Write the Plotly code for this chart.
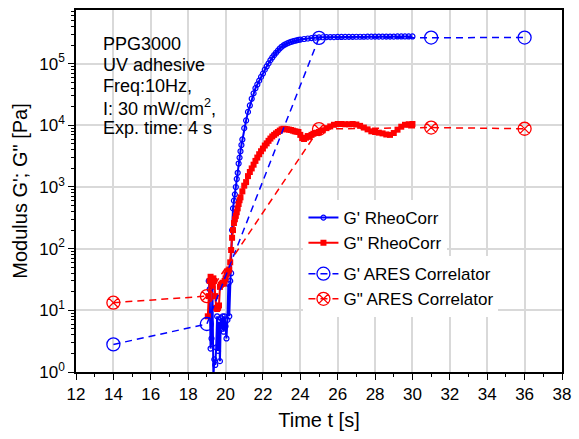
import plotly.graph_objects as go

# ---------------- data ----------------
t_gp = [19.10, 19.15, 19.20, 19.25, 19.30, 19.35, 19.40, 19.45, 19.50, 19.55,
        19.60, 19.65, 19.70, 19.75, 19.80, 19.85, 19.90, 19.95, 20.00, 20.05,
        20.10, 20.15, 20.20, 20.25, 20.30, 20.35, 20.40, 20.45, 20.50, 20.55,
        20.60, 20.65, 20.70, 20.75, 20.80, 20.85, 20.90, 21.00, 21.10, 21.20,
        21.30, 21.40, 21.50, 21.60, 21.70, 21.80, 21.90, 22.00, 22.10, 22.20,
        22.30, 22.40, 22.50, 22.60, 22.70, 22.80, 22.90, 23.00, 23.10, 23.20,
        23.30, 23.40, 23.50, 23.60, 23.70, 23.80, 23.90, 24.00, 24.20, 24.40,
        24.60, 24.80, 25.00, 25.20, 25.40, 25.60, 25.80, 26.00, 26.20, 26.40,
        26.60, 26.80, 27.00, 27.20, 27.40, 27.60, 27.80, 28.00, 28.20, 28.40,
        28.60, 28.80, 29.00, 29.20, 29.40, 29.60, 29.80, 30.00]
g_p = [30, 22, 2.4, 3.5, 24, 0.8, 1.6, 1.3, 2.5, 8,
       2.2, 6.5, 1.5, 7.5, 5, 8, 4.5, 8, 5.5, 3.5,
       7, 27, 8, 30, 40, 200, 450, 600, 760, 1000,
       1350, 1700, 2400, 3000, 3800, 4800, 5900, 9000, 12000, 16500,
       21000, 27000, 33000, 40000, 46000, 53000, 61000, 69000, 80000, 90000,
       101000, 114000, 126000, 138000, 150000, 163000, 176000, 188000, 198000, 206000,
       213000, 219000, 225000, 230000, 235000, 239000, 243000, 246000, 251000, 256000,
       260000, 264000, 267000, 268000, 269000, 270000, 270000, 271000, 271000, 272000,
       272000, 272000, 273000, 273000, 273000, 274000, 274000, 274000, 274000, 275000,
       275000, 275000, 275000, 276000, 276000, 276000, 276000, 276000]

t_gpp = [19.05, 19.10, 19.15, 19.20, 19.25, 19.30, 19.35, 19.40, 19.45, 19.50,
         19.55, 19.60, 19.65, 19.70, 19.75, 19.80, 19.85, 19.90, 19.95, 20.00,
         20.05, 20.10, 20.15, 20.20, 20.25, 20.30, 20.35, 20.40, 20.45, 20.50,
         20.55, 20.60, 20.65, 20.70, 20.75, 20.80, 20.90, 21.00, 21.10, 21.20,
         21.30, 21.40, 21.50, 21.60, 21.70, 21.80, 21.90, 22.00, 22.10, 22.20,
         22.30, 22.40, 22.50, 22.60, 22.70, 22.80, 22.90, 23.00, 23.10, 23.20,
         23.30, 23.40, 23.50, 23.60, 23.70, 23.80, 23.90, 24.00, 24.10, 24.20,
         24.30, 24.40, 24.50, 24.60, 24.70, 24.80, 24.90, 25.00, 25.20, 25.40,
         25.60, 25.80, 26.00, 26.20, 26.40, 26.60, 26.80, 27.00, 27.20, 27.40,
         27.60, 27.80, 28.00, 28.20, 28.40, 28.60, 28.80, 29.00, 29.20, 29.40,
         29.60, 29.80, 30.00]
g_pp = [8, 17, 30, 35, 31, 25, 33, 30, 17, 11,
        10.5, 11, 12, 24, 26, 27, 28, 27, 30, 33,
        38, 42, 44, 46, 60, 95, 150, 200, 260, 300,
        340, 390, 450, 530, 610, 680, 850, 1050, 1200, 1500,
        1750, 2000, 2300, 2650, 3000, 3400, 3800, 4200, 4700, 5100,
        5600, 6100, 6600, 7000, 7400, 7800, 8200, 8600, 8800, 8700,
        8600, 8500, 8400, 8200, 8000, 7900, 7800, 7000, 6200, 6000,
        6300, 6700, 6500, 7000, 7300, 7500, 7600, 7800, 8300, 9000,
        9600, 10200, 10500, 10500, 10400, 10400, 10500, 10300, 9800, 9200,
        8600, 8000, 7800, 7600, 7400, 7100, 7000, 7500, 8500, 9500,
        10200, 10400, 10500]

t_ares = [14, 19, 25, 31, 36]
g_p_ares = [2.8, 6.0, 262000, 265000, 265000]
g_pp_ares = [13.3, 17.0, 8700, 9200, 8800]

x_ticks = [12, 14, 16, 18, 20, 22, 24, 26, 28, 30, 32, 34, 36, 38]
y_tick_vals = [1, 10, 100, 1000, 10000, 100000]
y_tick_text = ["10<sup>0</sup>", "10<sup>1</sup>", "10<sup>2</sup>",
               "10<sup>3</sup>", "10<sup>4</sup>", "10<sup>5</sup>"]

info_lines = ["PPG3000", "UV adhesive", "Freq:10Hz,",
              "I: 30 mW/cm<sup>2</sup>,", "Exp. time: 4 s"]

# ---------------- figure ----------------
FONT = "Liberation Sans, Arial, sans-serif"
BLUE = "#0000ff"
RED = "#ff0000"

fig = go.Figure()
fig.add_trace(go.Scatter(
    x=t_gp, y=g_p, mode="lines+markers", name="G' RheoCorr",
    line=dict(color=BLUE, width=2),
    marker=dict(symbol="circle-open", size=5, color=BLUE, line=dict(width=1.2)),
    legend="legend"))
fig.add_trace(go.Scatter(
    x=t_gpp, y=g_pp, mode="lines+markers", name="G\" RheoCorr",
    line=dict(color=RED, width=2),
    marker=dict(symbol="square", size=6, color=RED),
    legend="legend"))
fig.add_trace(go.Scatter(
    x=t_ares, y=g_p_ares, mode="lines+markers", name="G' ARES Correlator",
    line=dict(color=BLUE, width=1.5, dash="7px,5px"),
    marker=dict(symbol="circle-open", size=13, color=BLUE, line=dict(width=1.3)),
    legend="legend2"))
fig.add_trace(go.Scatter(
    x=t_ares, y=g_pp_ares, mode="lines+markers", name="G\" ARES Correlator",
    line=dict(color=RED, width=1.5, dash="7px,5px"),
    marker=dict(symbol="circle-x-open", size=13, color=RED, line=dict(width=1.3)),
    legend="legend2"))

minor_vals = [m * 10 ** e for e in range(0, 6) for m in range(2, 10)]

fig.update_layout(
    width=579, height=439,
    margin=dict(l=76, r=10, t=8, b=67),
    paper_bgcolor="white", plot_bgcolor="white",
    font=dict(family=FONT, size=17, color="black"),
    showlegend=True,
    legend=dict(x=0.468, y=0.475, xanchor="left", yanchor="top",
                bgcolor="white", borderwidth=0, font=dict(size=17),
                tracegroupgap=0),
    legend2=dict(x=0.468, y=0.32, xanchor="left", yanchor="top",
                 bgcolor="white", borderwidth=0, font=dict(size=17),
                 tracegroupgap=0),
    xaxis=dict(range=[12, 38], tickvals=x_ticks, ticks="outside", ticklen=6,
               tickwidth=1.3, tickcolor="black",
               minor=dict(dtick=1, ticks="outside", ticklen=3, tickcolor="black",
                          showgrid=False),
               showgrid=True, gridcolor="#d9d9d9", gridwidth=1.5,
               showline=True, linecolor="black", linewidth=1.5, mirror=True,
               zeroline=False, tickfont=dict(size=17),
               title=dict(text="Time t [s]", font=dict(size=20), standoff=10)),
    yaxis=dict(type="log", range=[0, 5.87], tickvals=y_tick_vals,
               ticktext=y_tick_text, ticks="outside", ticklen=6,
               tickwidth=1.3, tickcolor="black",
               minor=dict(tickvals=minor_vals, ticks="outside", ticklen=3,
                          tickcolor="black", showgrid=False),
               showgrid=True, gridcolor="#d9d9d9", gridwidth=1.5,
               showline=True, linecolor="black", linewidth=1.5, mirror=True,
               zeroline=False, tickfont=dict(size=17),
               title=dict(text="Modulus G'; G\" [Pa]", font=dict(size=20),
                          standoff=6)),
)

y0 = 0.905
for i, line in enumerate(info_lines):
    fig.add_annotation(xref="paper", yref="paper", x=0.052, y=y0 - i * 0.058,
                       xanchor="left", yanchor="middle", showarrow=False,
                       text=line, font=dict(size=18, family=FONT),
                       align="left")

fig.write_html("out.html")
